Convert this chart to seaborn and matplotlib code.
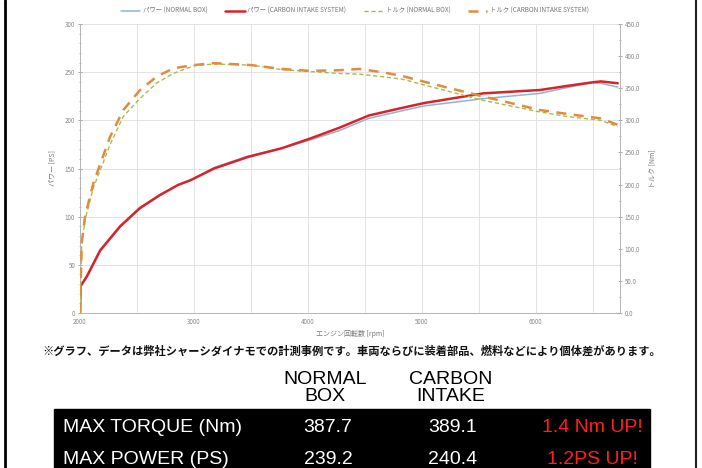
import numpy as np
import pandas as pd
import matplotlib
matplotlib.use('Agg')
import matplotlib.pyplot as plt
import seaborn as sns
from matplotlib.patches import Rectangle
from matplotlib.lines import Line2D
from matplotlib.ticker import MultipleLocator, FormatStrFormatter

# power curves (PS)
power_rpm = [2000, 2005, 2060, 2177, 2352, 2526, 2702, 2862, 2973, 3177, 3475, 3770,
             4018, 4270, 4535, 4830, 5023, 5540, 6040, 6275, 6500, 6572, 6720]
power_normal = [0, 27, 37, 64, 89, 108, 122, 133, 138, 151, 163, 171,
                179.5, 189, 202, 210, 215, 222.5, 228, 234, 239.2, 238.5, 234.5]
power_carbon = [0, 28, 38, 65, 90, 109, 122.5, 133, 138, 150, 162, 171,
                181, 192, 205, 213, 218, 228, 231.5, 235.7, 239.5, 240.4, 238.5]

# torque curves (Nm)
torque_rpm = [2000, 2015, 2044, 2117, 2190, 2263, 2380, 2526, 2673, 2818, 3000, 3170,
              3504, 3770, 4018, 4270, 4450, 4650, 4830, 5023, 5540, 6040, 6275, 6572, 6720]
torque_normal = [0, 105, 145, 195, 228, 262, 306, 334, 358, 373, 385, 387.7,
                 386, 379, 376, 373, 372, 368, 364, 355, 331, 313, 306, 300, 290]
torque_carbon = [0, 109, 150, 202, 238, 274, 316, 347, 368, 381, 386, 389.1,
                 386, 380, 377, 378, 380, 375, 369, 360, 337, 316, 310, 303, 293]

labels = ['パワー (NORMAL BOX)', 'パワー (CARBON INTAKE SYSTEM)',
          'トルク (NORMAL BOX)', 'トルク (CARBON INTAKE SYSTEM)']

table_cols = ['NORMAL\nBOX', 'CARBON\nINTAKE']
table_rows = ['MAX TORQUE (Nm)', 'MAX POWER (PS)']
table_normal = ['387.7', '239.2']
table_carbon = ['389.1', '240.4']
table_gain = ['1.4 Nm UP!', '1.2PS UP!']

note = '※グラフ、データは弊社シャーシダイナモでの計測事例です。車両ならびに装着部品、燃料などにより個体差があります。'

sns.set_style('white')
plt.rcParams['font.family'] = ['Noto Sans CJK JP', 'DejaVu Sans']

W, H = 702, 468
fig = plt.figure(figsize=(W / 100, H / 100), dpi=100)
ax = fig.add_axes([80 / W, (H - 313) / H, 540 / W, 289 / H])
ax2 = ax.twinx()

c_pn = '#8db6d6'
c_pc = '#d8232a'
c_tn = '#a9bb4c'
c_tc = '#e08b3e'

sns.lineplot(x=power_rpm, y=power_normal, ax=ax, color=c_pn, linewidth=1.1)
sns.lineplot(x=power_rpm, y=power_carbon, ax=ax, color=c_pc, linewidth=1.8)
sns.lineplot(x=torque_rpm, y=torque_normal, ax=ax2, color=c_tn, linewidth=1.0,
             linestyle=(0, (3, 2)))
sns.lineplot(x=torque_rpm, y=torque_carbon, ax=ax2, color=c_tc, linewidth=1.8,
             linestyle=(0, (4, 3)))

ax.set_xlim(2000, 6740)
ax.set_ylim(0, 300)
ax2.set_ylim(0, 450)

ax.xaxis.set_major_locator(MultipleLocator(1000))
ax.xaxis.set_minor_locator(MultipleLocator(500))
ax.yaxis.set_major_locator(MultipleLocator(50))
ax.yaxis.set_minor_locator(MultipleLocator(10))
ax2.yaxis.set_major_locator(MultipleLocator(50))
ax2.yaxis.set_minor_locator(MultipleLocator(25))
ax2.yaxis.set_major_formatter(FormatStrFormatter('%.1f'))

ax.grid(True, which='both', axis='x', color='#e3e3e3', linewidth=0.7)
ax.grid(True, which='major', axis='y', color='#e3e3e3', linewidth=0.7)
ax.set_axisbelow(True)

grey = '#9a9a9a'
for a in (ax, ax2):
    for s in a.spines.values():
        s.set_visible(False)
    a.tick_params(axis='both', which='major', labelsize=4.5, colors=grey,
                  length=3, width=0.6, direction='inout', pad=2)
    a.tick_params(axis='both', which='minor', colors=grey, length=1.5, width=0.5,
                  direction='inout')
    a.set_xlabel('')
    a.set_ylabel('')
ax.spines['left'].set_visible(True)
ax.spines['bottom'].set_visible(True)
ax2.spines['right'].set_visible(True)
for s in (ax.spines['left'], ax.spines['bottom'], ax2.spines['right']):
    s.set_color('#b5b5b5')
    s.set_linewidth(0.7)
for t in ax.get_yticklabels() + ax.get_xticklabels() + ax2.get_yticklabels():
    t.set_color('#888888')

ax.set_xlabel('エンジン回転数 [rpm]', fontsize=5, color='#777777', labelpad=3)
ax.set_ylabel('パワー [PS]', fontsize=5, color='#777777', labelpad=6)
ax2.set_ylabel('トルク [Nm]', fontsize=5, color='#777777', labelpad=6)

handles = [Line2D([], [], color=c_pn, lw=1.1),
           Line2D([], [], color=c_pc, lw=1.8),
           Line2D([], [], color=c_tn, lw=1.0, ls=(0, (3, 2))),
           Line2D([], [], color=c_tc, lw=1.8, ls=(0, (4, 3)))]
leg = fig.legend(handles, labels, loc='center', bbox_to_anchor=(355 / W, 1 - 11 / H),
                 ncol=4, frameon=False, fontsize=4.6, handlelength=3.0,
                 columnspacing=2.8, handletextpad=0.4)
for t in leg.get_texts():
    t.set_color('#777777')

# note under the chart
fig.text(352 / W, 1 - 351 / H, note, fontsize=8.1, fontweight='bold', ha='center',
         va='center', color='#111111')

# comparison table
tfont = ['Liberation Sans', 'DejaVu Sans']
fig.patches.append(Rectangle((54 / W, 0), (650 - 54) / W, (H - 409) / H,
                             transform=fig.transFigure, color='black', zorder=0))
col_x = [325, 451]
for x, txt in zip(col_x, table_cols):
    fig.text(x / W, 1 - 388 / H, txt, fontsize=14, family=tfont, ha='center',
             va='center', color='black', linespacing=0.95)
row_y = [427, 459]
for y, r, n, c, g in zip(row_y, table_rows, table_normal, table_carbon, table_gain):
    fig.text(63 / W, 1 - y / H, r, fontsize=14, family=tfont, ha='left',
             va='center', color='white')
    fig.text(328 / W, 1 - y / H, n, fontsize=14, family=tfont, ha='center',
             va='center', color='white')
    fig.text(453 / W, 1 - y / H, c, fontsize=14, family=tfont, ha='center',
             va='center', color='white')
    fig.text(592 / W, 1 - y / H, g, fontsize=14, family=tfont, ha='center',
             va='center', color='#ff1f1f')

# frame lines at the sides
fig.add_artist(Line2D([5 / W, 5 / W], [0, 1], color='black', lw=2))
fig.add_artist(Line2D([695.5 / W, 695.5 / W], [0, 1], color='#222222', lw=1.5))

fig.savefig('out.png', dpi=100)
